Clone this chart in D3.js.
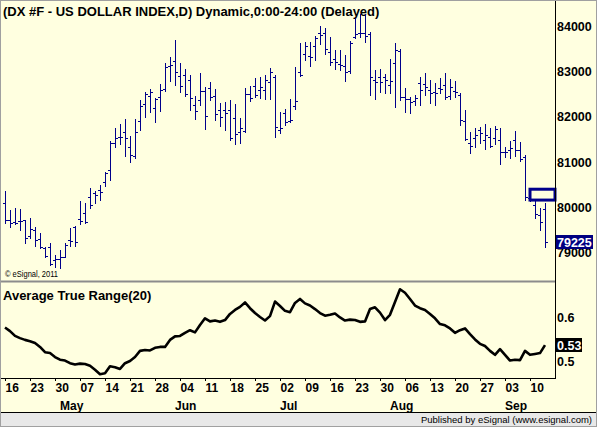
<!DOCTYPE html>
<html><head><meta charset="utf-8">
<script src="https://cdn.jsdelivr.net/npm/d3@7"></script>
<style>
body{margin:0;background:#fff}
svg{display:block}
text{font-family:"Liberation Sans",Arial,sans-serif}
</style>
</head><body>
<svg id="c" width="597" height="427"></svg>
<script>
// ---------------- data ----------------
const title = "(DX #F - US DOLLAR INDEX,D) Dynamic,0:00-24:00 (Delayed)";
const atrTitle = "Average True Range(20)";
const startDate = "2012-04-16", endDate = "2012-09-13";

const open = [80100,79725,79680,79700,79725,79370,79500,79305,79105,79125,
78840,78860,78905,79280,79570,79745,79880,80230,80320,80385,
80565,80830,81425,81560,81670,81340,81140,81915,82290,82465,
82200,82445,82620,83130,83240,82910,82930,82820,82265,82380,
82575,82645,82465,82155,82155,82155,81980,81670,81690,82510,
82690,82600,82600,82775,82885,81715,82090,81915,82245,82995,
83395,83350,83575,83860,83860,83440,83285,83175,83130,83020,
83770,83860,83860,83840,82820,82885,82885,82710,83195,83460,
82445,82400,82355,82755,82730,82600,82555,82645,82710,82465,
82575,82490,81915,81425,81535,81715,81495,81560,81535,81495,
81230,81270,81495,81270,81115,80210,80055,79835,79965];

const high = [80365,79945,79990,79965,79730,79770,79570,79435,79125,79215,
78950,79060,79215,79545,79590,80145,80100,80430,80365,80500,
80785,81470,81760,81845,81960,81580,81960,82380,82555,82620,
82420,82730,83195,83330,83705,83195,83065,82930,82465,82975,
82665,82775,82620,82310,82335,82380,82290,81980,82645,82690,
82865,82885,82930,83085,82930,82115,82180,82400,83108,83640,
83660,83660,83795,84015,83970,83770,83485,83485,83375,83685,
84190,84280,84280,83880,83040,83065,82955,83285,83640,83505,
82645,82445,82490,82885,82975,82820,82755,82865,82975,82845,
82800,82535,82155,81670,81760,81780,81845,81760,81805,81760,
81340,81470,81690,81450,81160,80385,80165,79990,80100];

const low = [79655,79570,79635,79500,79215,79325,79150,79105,78905,78730,
78685,78660,78905,79150,79150,79635,79655,79990,80100,80165,
80475,80610,81340,81405,81140,81005,81095,81715,82000,82110,
81890,82135,82575,82800,82710,82555,82465,82155,81960,82265,
81735,82380,81935,81805,81715,81495,81405,81425,81670,82355,
82445,82420,82400,82400,81560,81650,81825,81890,82180,82910,
83265,83130,83265,83615,83395,83150,83065,83040,82800,82975,
83750,83770,83660,82490,82400,82555,82535,82535,82225,82380,
82110,82090,82265,82265,82490,82310,82265,82535,82400,82400,
82445,81825,81495,81205,81340,81425,81295,81340,81405,80960,
81115,81095,81140,81030,80165,80145,79770,79500,79125];

const close = [79725,79655,79655,79705,79325,79525,79280,79125,78925,78750,
78860,78905,79170,79260,79235,79700,79680,80055,80275,80345,
80760,81425,81540,81560,81540,81160,81670,82245,82510,82555,
82400,82600,83110,83150,82995,82690,82510,82420,82135,82575,
82025,82445,82070,82000,82090,81535,81625,81760,82510,82420,
82490,82665,82820,82995,81780,81760,81890,81935,82355,82930,
83575,83330,83750,83815,83505,83220,83220,83150,82995,83640,
83840,83860,83795,82885,82775,82775,82820,82800,83485,82445,
82400,82335,82420,82600,82665,82535,82535,82620,82445,82665,
82555,81935,81515,81360,81605,81650,81605,81360,81735,81230,
81230,81315,81270,81075,80230,80190,79855,79680,79225];

const atr = [0.576,0.568,0.557,0.552,0.548,0.545,0.541,0.532,0.520,0.518,
0.509,0.503,0.501,0.495,0.492,0.494,0.493,0.489,0.480,0.470,
0.472,0.488,0.486,0.482,0.495,0.500,0.509,0.523,0.525,0.524,
0.530,0.532,0.532,0.548,0.556,0.557,0.564,0.570,0.565,0.582,
0.597,0.590,0.592,0.589,0.593,0.607,0.616,0.623,0.633,0.620,
0.609,0.600,0.592,0.602,0.635,0.625,0.614,0.611,0.632,0.641,
0.631,0.626,0.618,0.609,0.603,0.605,0.608,0.599,0.592,0.594,
0.593,0.589,0.590,0.618,0.622,0.610,0.593,0.605,0.634,0.663,
0.655,0.641,0.626,0.620,0.616,0.607,0.597,0.584,0.581,0.574,
0.564,0.570,0.574,0.561,0.549,0.539,0.534,0.523,0.514,0.527,
0.514,0.501,0.503,0.502,0.523,0.514,0.516,0.518,0.536];

const priceTicks = [79000, 80000, 81000, 82000, 83000, 84000];
const atrTicks = [0.5, 0.6];
const markerBox = {fromBar: 105, top: 80400, bottom: 80160};
const footer = "Published by eSignal (www.esignal.com)";
const copyright = "\u00A9 eSignal, 2011";

// ---------------- dates (weekday sessions) ----------------
const parse = d3.utcParse("%Y-%m-%d");
const dates = d3.utcDays(parse(startDate), d3.utcDay.offset(parse(endDate), 1))
  .filter(d => d.getUTCDay() !== 0 && d.getUTCDay() !== 6);

// ---------------- layout ----------------
const W = 597, H = 427;
const BG = "#FFFFE0", NAVY = "#00008B";
const svg = d3.select("#c");
svg.append("rect").attr("width", W).attr("height", H).attr("fill", BG);

const x = d3.scalePoint().domain(dates.map(d => +d)).range([5, 545]);
const y = d3.scaleLinear().domain([79000, 84000]).range([252.5, 26.5]);
const ya = d3.scaleLinear().domain([0.5, 0.6]).range([361, 317]);

const defs = svg.append("defs");
defs.append("clipPath").attr("id", "mainClip").append("rect")
  .attr("x", 0).attr("y", 1).attr("width", 555).attr("height", 280);
defs.append("clipPath").attr("id", "atrClip").append("rect")
  .attr("x", 0).attr("y", 283).attr("width", 555).attr("height", 95);

// title
svg.append("text").attr("x", 3).attr("y", 16)
  .attr("font-size", 13).attr("font-weight", "bold").attr("fill", "#000")
  .text(title);

// OHLC bars
const px = i => Math.round(x(+dates[i]));
const bars = svg.append("g").attr("clip-path", "url(#mainClip)")
  .attr("stroke", NAVY).attr("stroke-width", 1).attr("fill", "none");
const idx = d3.range(dates.length);
bars.selectAll("line.hl").data(idx).join("line").attr("class", "hl")
  .attr("x1", i => px(i) + 0.5).attr("x2", i => px(i) + 0.5)
  .attr("y1", i => Math.round(y(high[i]))).attr("y2", i => Math.round(y(low[i])) + 1);
bars.selectAll("line.o").data(idx).join("line").attr("class", "o")
  .attr("x1", i => px(i) - 2).attr("x2", i => px(i))
  .attr("y1", i => Math.round(y(open[i])) + 0.5).attr("y2", i => Math.round(y(open[i])) + 0.5);
bars.selectAll("line.c").data(idx).join("line").attr("class", "c")
  .attr("x1", i => px(i) + 1).attr("x2", i => px(i) + 3)
  .attr("y1", i => Math.round(y(close[i])) + 0.5).attr("y2", i => Math.round(y(close[i])) + 0.5);

// marker rectangle
svg.append("rect")
  .attr("x", px(markerBox.fromBar)).attr("y", y(markerBox.top))
  .attr("width", 555 - px(markerBox.fromBar)).attr("height", y(markerBox.bottom) - y(markerBox.top))
  .attr("fill", "none").attr("stroke", NAVY).attr("stroke-width", 3);

// copyright
svg.append("text").attr("x", 5).attr("y", 277).attr("font-size", 8.5)
  .attr("textLength", 53).attr("lengthAdjust", "spacingAndGlyphs")
  .attr("fill", "#000").text(copyright);

// ATR panel
svg.append("text").attr("x", 3).attr("y", 299.5)
  .attr("font-size", 13).attr("font-weight", "bold").attr("fill", "#000")
  .text(atrTitle);
svg.append("path").attr("clip-path", "url(#atrClip)")
  .datum(idx)
  .attr("d", d3.line().x(i => x(+dates[i])).y(i => ya(atr[i])))
  .attr("fill", "none").attr("stroke", "#000").attr("stroke-width", 2.6)
  .attr("stroke-linejoin", "round");

// panel borders
svg.append("line").attr("x1", 0).attr("x2", 556).attr("y1", 281.5).attr("y2", 281.5)
  .attr("stroke", "#8C8C8C").attr("stroke-width", 2);
svg.append("line").attr("x1", 555.5).attr("x2", 555.5).attr("y1", 0).attr("y2", 379)
  .attr("stroke", "#000");
svg.append("line").attr("x1", 0).attr("x2", 556).attr("y1", 378.5).attr("y2", 378.5)
  .attr("stroke", "#000");

// right price axis
const yAxis = svg.append("g").attr("transform", "translate(556,0)")
  .call(d3.axisRight(y).tickValues(priceTicks).tickSize(0).tickPadding(1).tickFormat(d3.format("d")));
yAxis.select(".domain").remove();
yAxis.selectAll("text").attr("font-size", 12.5).attr("font-weight", "bold")
  .attr("fill", "#000").attr("font-family", null);

// last price box
const lastC = close[close.length - 1];
svg.append("rect").attr("x", 556).attr("y", Math.round(y(lastC)) - 7).attr("width", 37).attr("height", 14)
  .attr("fill", "#000080");
svg.append("text").attr("x", 557).attr("y", y(lastC)).attr("dy", "0.36em")
  .attr("font-size", 12.5).attr("font-weight", "bold").attr("fill", "#fff")
  .text(d3.format("d")(lastC));

// ATR axis
const aAxis = svg.append("g").attr("transform", "translate(556,0)")
  .call(d3.axisRight(ya).tickValues(atrTicks).tickSize(0).tickPadding(1).tickFormat(d3.format(".1f")));
aAxis.select(".domain").remove();
aAxis.selectAll("text").attr("font-size", 12.5).attr("font-weight", "bold")
  .attr("fill", "#000").attr("font-family", null);
const lastA = atr[atr.length - 1];
svg.append("rect").attr("x", 556).attr("y", Math.round(ya(lastA)) - 7).attr("width", 26).attr("height", 14)
  .attr("fill", "#000");
svg.append("text").attr("x", 557).attr("y", ya(lastA)).attr("dy", "0.36em")
  .attr("font-size", 12.5).attr("font-weight", "bold").attr("fill", "#fff")
  .text(d3.format(".2f")(Math.floor(lastA * 100) / 100));

// bottom date axis
const mondays = dates.filter(d => d.getUTCDay() === 1).map(d => +d);
const xAxis = svg.append("g").attr("transform", "translate(0,378)")
  .call(d3.axisBottom(x).tickValues(mondays).tickSize(3).tickPadding(0)
    .tickFormat(d => d3.utcFormat("%d")(new Date(d))));
xAxis.select(".domain").remove();
xAxis.selectAll("line").attr("stroke", "#000");
xAxis.selectAll("text").attr("text-anchor", "start").attr("dy", null).attr("y", 14)
  .attr("font-size", 12).attr("font-weight", "bold").attr("fill", "#000").attr("font-family", null);

const monthStarts = dates.filter((d, i) => i > 0 && d.getUTCMonth() !== dates[i - 1].getUTCMonth());
svg.append("g").selectAll("text").data(monthStarts).join("text")
  .attr("x", d => x(+d)).attr("y", 409.5)
  .attr("font-size", 12).attr("font-weight", "bold").attr("fill", "#000")
  .text(d => d3.utcFormat("%b")(d));

// footer
svg.append("rect").attr("x", 0).attr("y", 413).attr("width", W).attr("height", 14).attr("fill", "#E8E8E8");
svg.append("line").attr("x1", 0).attr("x2", W).attr("y1", 412.5).attr("y2", 412.5).attr("stroke", "#000");
svg.append("text").attr("x", 592).attr("y", 423).attr("text-anchor", "end")
  .attr("font-size", 9.5).attr("fill", "#000").text(footer);

// outer frame
svg.append("rect").attr("x", 0.5).attr("y", 0.5).attr("width", W - 1).attr("height", H - 1)
  .attr("fill", "none").attr("stroke", "#A0A0A0");
</script>
</body></html>
